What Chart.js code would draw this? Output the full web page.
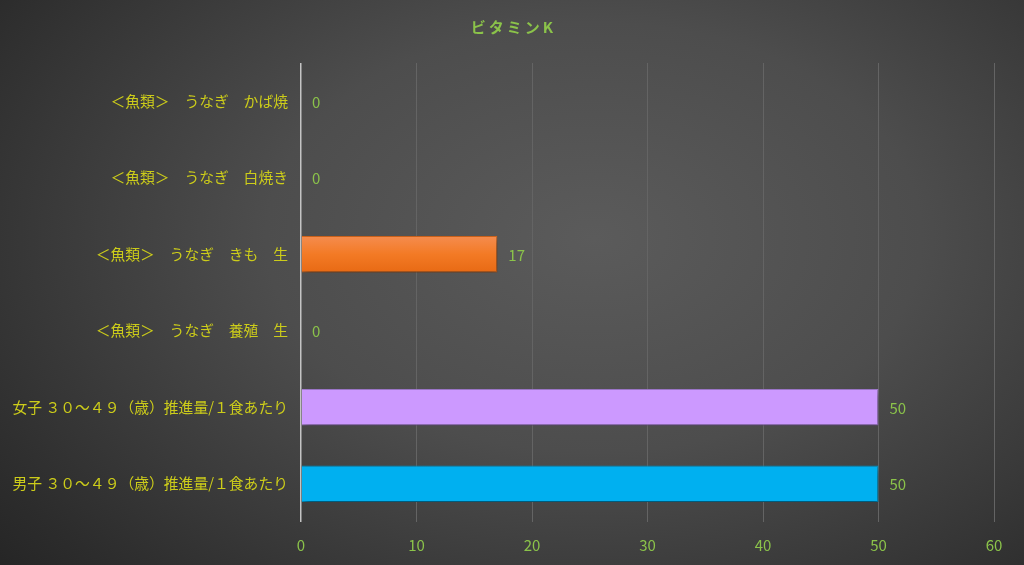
<!DOCTYPE html>
<html>
<head>
<meta charset="utf-8">
<script src="https://cdn.jsdelivr.net/npm/chart.js@4.4.1/dist/chart.umd.min.js"></script>
<style>
html,body{margin:0;padding:0;}
#wrap{width:1024px;height:565px;background:radial-gradient(ellipse 80% 95% at 58% 42%, #5b5b5b 0%, #4d4d4d 40%, #2c2c2c 85%, #222 100%);}
</style>
</head>
<body>
<div id="wrap"><canvas id="c" width="1024" height="565"></canvas></div>
<script>
const titleText = 'ビ\u2009タ\u2009ミ\u2009ン\u2009K';
const categories = [
  '＜魚類＞　うなぎ　かば焼',
  '＜魚類＞　うなぎ　白焼き',
  '＜魚類＞　うなぎ　きも　生',
  '＜魚類＞　うなぎ　養殖　生',
  '女子 ３０～４９（歳）推進量/１食あたり',
  '男子 ３０～４９（歳）推進量/１食あたり'
];
const values = [0, 0, 17, 0, 50, 50];
const barColors = ['#F07A22', '#F07A22', '#F07A22', '#F07A22', '#CC99FF', '#00B0F0'];
const xTicks = [0, 10, 20, 30, 40, 50, 60];

const green = '#8BC34A';
const yellow = '#CCCC1A';
const font = "'Noto Sans CJK JP', 'Noto Sans', sans-serif";

const shadowPlugin = {
  id: 'shadow',
  beforeDatasetsDraw(chart) {
    const ctx = chart.ctx;
    ctx.save();
    ctx.shadowColor = 'rgba(0,0,0,0.55)';
    ctx.shadowBlur = 7;
    ctx.shadowOffsetX = 2;
    ctx.shadowOffsetY = 3;
  },
  afterDatasetsDraw(chart) {
    const ctx = chart.ctx;
    ctx.restore();
    ctx.save();
    ctx.fillStyle = green;
    ctx.font = "15px " + font;
    ctx.textAlign = 'left';
    ctx.textBaseline = 'middle';
    chart.getDatasetMeta(0).data.forEach((bar, i) => {
      ctx.fillText(String(values[i]), bar.x + 11, bar.y + 1);
    });
    ctx.restore();
  }
};

function barFill(context) {
  const i = context.dataIndex;
  const base = barColors[i];
  const chart = context.chart;
  if (i > 3 || !chart.scales || !chart.scales.y) return base;
  const yc = chart.scales.y.getPixelForValue(i);
  if (!isFinite(yc)) return base;
  const g = chart.ctx.createLinearGradient(0, yc - 18, 0, yc + 18);
  g.addColorStop(0, '#F58C4E');
  g.addColorStop(0.5, '#F37A25');
  g.addColorStop(1, '#E86A14');
  return g;
}

new Chart(document.getElementById('c'), {
  type: 'bar',
  data: {
    labels: categories,
    datasets: [{
      data: values,
      backgroundColor: barFill,
      borderColor: barColors.map((c, i) => i === 4 ? '#a77fd6' : (i === 5 ? '#0096cc' : '#d8681c')),
      borderWidth: 1,
      barPercentage: 0.475,
      categoryPercentage: 1.0
    }]
  },
  options: {
    indexAxis: 'y',
    responsive: false,
    animation: false,
    devicePixelRatio: 1,
    layout: { padding: { left: 0, right: 0, top: 0, bottom: 0 } },
    plugins: {
      legend: { display: false },
      tooltip: { enabled: false },
      title: {
        display: true,
        text: titleText,
        color: green,
        font: { family: font, size: 15, weight: 'bold' },
        padding: { top: 18, bottom: 27 }
      }
    },
    scales: {
      x: {
        min: 0, max: 60,
        afterBuildTicks(scale) { scale.ticks = xTicks.map(v => ({ value: v })); },
        afterFit(scale) { scale.height = 43; },
        ticks: { color: green, font: { family: font, size: 15 }, padding: 14 },
        grid: {
          drawTicks: false,
          color: (c) => (c.tick && c.tick.value === 0) ? '#c4c4c4' : '#646464',
          lineWidth: (c) => (c.tick && c.tick.value === 0) ? 1.5 : 1
        },
        border: { display: false }
      },
      y: {
        afterFit(scale) { scale.width = 301; },
        ticks: { color: yellow, font: { family: font, size: 14.8 }, padding: 13, crossAlign: 'near' },
        grid: { display: false, drawTicks: false },
        border: { display: false }
      },
      yRight: {
        type: 'category',
        position: 'right',
        afterFit(scale) { scale.width = 30; },
        ticks: { display: false },
        grid: { display: false, drawTicks: false },
        border: { display: false }
      }
    }
  },
  plugins: [shadowPlugin]
});
</script>
</body>
</html>
